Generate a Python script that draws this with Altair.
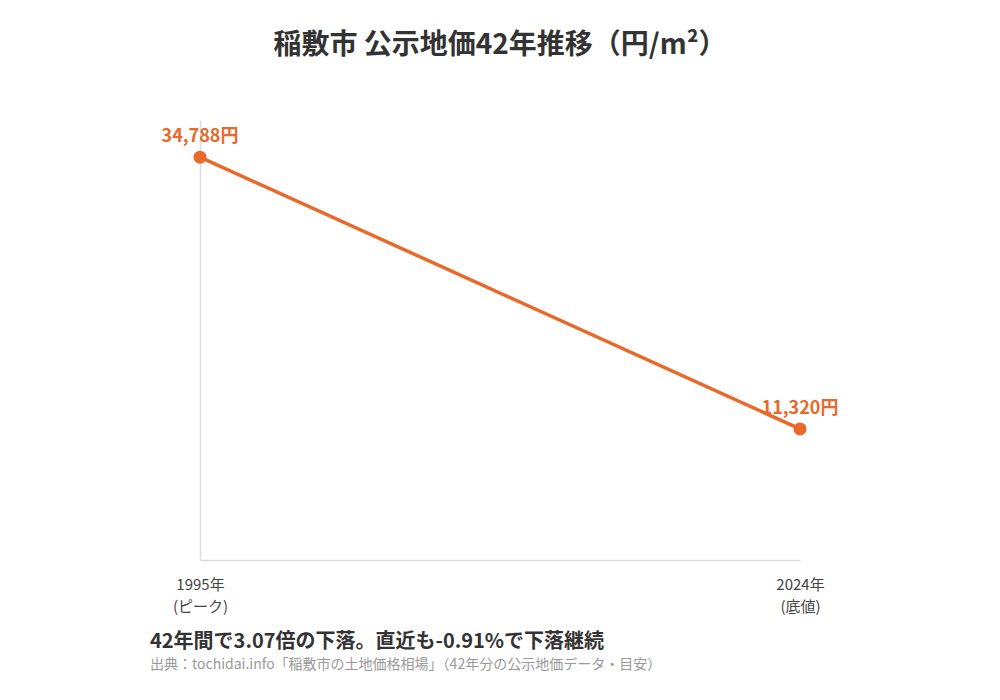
import altair as alt
import pandas as pd

years = [1995, 2024]
prices = [34788, 11320]
notes = ["ピーク", "底値"]
title_text = "稲敷市 公示地価42年推移（円/m²）"
summary_text = "42年間で3.07倍の下落。直近も-0.91%で下落継続"
source_text = "出典：tochidai.info「稲敷市の土地価格相場」（42年分の公示地価データ・目安）"

FONT = "Noto Sans CJK JP"
ORANGE = "#E8692A"

df = pd.DataFrame({"year": years, "price": prices, "note": notes})
df["label"] = df["price"].map(lambda v: f"{v:,}円")

label_expr = " : ".join(
    f"datum.value == {y} ? ['{y}年', '({n})']" for y, n in zip(years, notes)
) + " : ''"

x = alt.X("year:Q", scale=alt.Scale(domain=[min(years), max(years)]),
          axis=alt.Axis(values=years, labelExpr=label_expr, title=None, grid=False,
                        ticks=False, domainColor="#dddddd", domainWidth=1.5,
                        labelFlush=False, labelAlign="center",
                        labelFont=FONT, labelFontSize=15, labelColor="#444444",
                        labelPadding=17, labelLineHeight=22, labelBaseline="top"))
y = alt.Y("price:Q", scale=alt.Scale(domain=[0, 38000], nice=False),
          axis=alt.Axis(title=None, labels=False, ticks=False, grid=False,
                        domainColor="#dddddd", domainWidth=1.5))

base = alt.Chart(df)
line = base.mark_line(color=ORANGE, strokeWidth=3.5).encode(x=x, y=y)
pts = base.mark_circle(color=ORANGE, size=170, opacity=1).encode(x=x, y=y)
lbl = base.mark_text(color=ORANGE, font=FONT, fontSize=18, fontWeight="bold", dy=-20).encode(
    x=x, y=y, text="label:N")

foot = pd.DataFrame({"a": [summary_text], "b": [source_text]})
summ = alt.Chart(foot).mark_text(align="left", baseline="middle", font=FONT, fontSize=20,
                                 fontWeight="bold", color="#333333").encode(
    x=alt.value(-50), y=alt.value(522), text="a:N")
src = alt.Chart(foot).mark_text(align="left", baseline="middle", font=FONT, fontSize=14,
                                color="#999999").encode(
    x=alt.value(-50), y=alt.value(545), text="b:N")

chart = alt.layer(line, pts, lbl, summ, src).properties(
    width=600, height=440,
    title=alt.TitleParams(title_text, font=FONT, fontSize=28, fontWeight="bold",
                          color="#333333", anchor="middle", offset=60),
    autosize=alt.AutoSizeParams(type="none"),
    padding={"left": 192, "top": 112, "right": 192, "bottom": 120},
).configure(background="white").configure_view(stroke=None, strokeWidth=0)

chart.save("out.html", embed_options={"renderer": "svg", "actions": False})
